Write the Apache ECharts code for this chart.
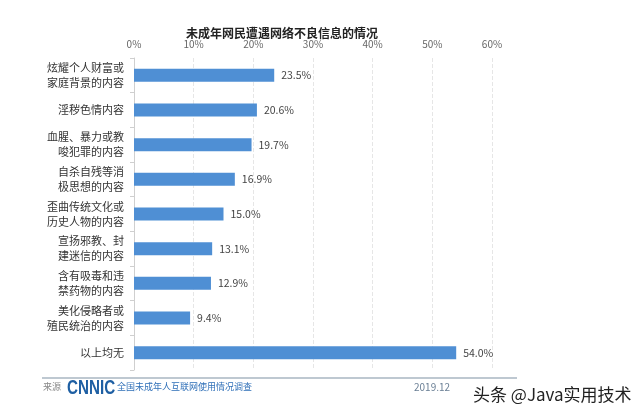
<!DOCTYPE html>
<html>
<head>
<meta charset="utf-8">
<script src="https://cdn.jsdelivr.net/npm/echarts@6/dist/echarts.min.js"></script>
<style>
html,body{margin:0;padding:0;background:#fff;}
#c{width:640px;height:415px;}
</style>
</head>
<body>
<div id="c"></div>
<script>
var titleText = '未成年网民遭遇网络不良信息的情况';
var categories = [
  '炫耀个人财富或\n家庭背景的内容',
  '淫秽色情内容',
  '血腥、暴力或教\n唆犯罪的内容',
  '自杀自残等消\n极思想的内容',
  '歪曲传统文化或\n历史人物的内容',
  '宣扬邪教、封\n建迷信的内容',
  '含有吸毒和违\n禁药物的内容',
  '美化侵略者或\n殖民统治的内容',
  '以上均无'
];
var values = [23.5, 20.6, 19.7, 16.9, 15.0, 13.1, 12.9, 9.4, 54.0];
var axisMax = 60;
var axisStep = 10;
var sourceLabel = '来源';
var logoText = 'CNNIC';
var surveyText = '全国未成年人互联网使用情况调查';
var dateText = '2019.12';
var watermarkText = '头条 @Java实用技术';

var font = '"Noto Sans CJK SC", "Noto Sans", sans-serif';
var chart = echarts.init(document.getElementById('c'));
chart.setOption({
  backgroundColor: '#fff',
  animation: false,
  title: {
    text: titleText,
    left: 277, top: 22, textAlign: 'center',
    textStyle: { fontSize: 12, fontWeight: 'bold', color: '#222', fontFamily: font }
  },
  grid: { left: 134, right: 148, top: 58, bottom: 45, containLabel: false },
  xAxis: {
    type: 'value', position: 'top', min: 0, max: axisMax, interval: axisStep,
    axisLine: { show: false }, axisTick: { show: false },
    axisLabel: { formatter: '{value}%', color: '#666', fontSize: 10, margin: 9, fontFamily: font },
    splitLine: { show: true, lineStyle: { color: '#e6e6e6', type: 'dashed', width: 1 } }
  },
  yAxis: {
    type: 'category', inverse: true, data: categories,
    axisLine: { show: true, lineStyle: { color: '#cfcfcf' } },
    axisTick: { show: true, length: 4, lineStyle: { color: '#cfcfcf' } },
    axisLabel: { color: '#333', fontSize: 11, lineHeight: 15, margin: 10, align: 'right', fontFamily: font }
  },
  series: [{
    type: 'bar', data: values, barWidth: 13,
    itemStyle: { color: '#4f8fd4' },
    label: { show: true, position: 'right', distance: 7, formatter: function(p){ return p.value.toFixed(1) + '%'; },
      color: '#444', fontSize: 10.5, fontFamily: font }
  }],
  graphic: [
    { type: 'line', shape: { x1: 42, y1: 378, x2: 517, y2: 378 }, style: { stroke: '#a9b6c2', lineWidth: 1.5 } },
    { type: 'text', left: 43, top: 382, style: { text: sourceLabel, fill: '#888', fontSize: 9, fontFamily: font } },
    { type: 'text', x: 67, y: 378, scaleX: 0.76, style: { text: logoText, fill: '#1e5fa3', fontSize: 20, fontWeight: 'bold', fontFamily: '"Liberation Sans", Arial, sans-serif' } },
    { type: 'text', left: 117, top: 382, style: { text: surveyText, fill: '#3070b8', fontSize: 9, fontFamily: font } },
    { type: 'text', left: 414, top: 382, style: { text: dateText, fill: '#6a7f95', fontSize: 10, fontFamily: font } },
    { type: 'text', left: 473, top: 386, style: { text: watermarkText, fill: '#222', fontSize: 17, fontFamily: font } }
  ]
});
</script>
</body>
</html>
